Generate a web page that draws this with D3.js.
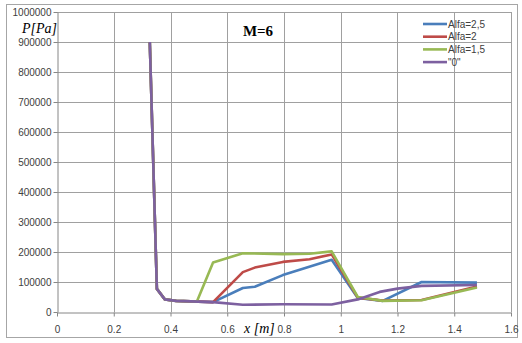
<!DOCTYPE html>
<html>
<head>
<meta charset="utf-8">
<script src="https://cdn.jsdelivr.net/npm/d3@7"></script>
<style>
  body { margin: 0; background: #fff; }
  svg { display: block; }
</style>
</head>
<body>
<svg id="chart" width="522" height="343"></svg>
<script>
// data
const xTicks = [0, 0.2, 0.4, 0.6, 0.8, 1, 1.2, 1.4, 1.6];
const yTicks = [0, 100000, 200000, 300000, 400000, 500000, 600000, 700000, 800000, 900000, 1000000];

const seriesNames = ["Alfa=2,5", "Alfa=2", "Alfa=1,5", "\"0\""];
const seriesColors = ["#4a7ebb", "#be4b48", "#98b954", "#7d60a0"];

const xAlfa25 = [0.327, 0.352, 0.38, 0.42, 0.55, 0.655, 0.697, 0.796, 0.968, 1.06, 1.148, 1.285, 1.48];
const pAlfa25 = [900000, 77000, 42000, 37000, 33000, 80000, 84000, 123000, 174000, 47000, 37000, 100000, 98000];

const xAlfa2 = [0.327, 0.352, 0.38, 0.42, 0.55, 0.655, 0.697, 0.796, 0.89, 0.968, 1.06, 1.148, 1.285, 1.48];
const pAlfa2 = [900000, 77000, 42000, 37000, 33000, 133000, 148000, 167000, 176000, 192000, 48000, 38000, 40000, 85000];

const xAlfa15 = [0.327, 0.352, 0.38, 0.42, 0.493, 0.55, 0.655, 0.796, 0.89, 0.968, 1.06, 1.148, 1.285, 1.48];
const pAlfa15 = [900000, 77000, 42000, 37000, 35000, 165000, 196000, 193000, 194000, 202000, 50000, 37000, 39000, 82000];

const xZero = [0.327, 0.352, 0.38, 0.42, 0.55, 0.655, 0.796, 0.968, 1.06, 1.137, 1.2, 1.285, 1.48];
const pZero = [900000, 77000, 42000, 37000, 33000, 24000, 26000, 25000, 42000, 67000, 78000, 87000, 90000];

const series = [
  { xs: xAlfa25, ps: pAlfa25 },
  { xs: xAlfa2, ps: pAlfa2 },
  { xs: xAlfa15, ps: pAlfa15 },
  { xs: xZero, ps: pZero }
];

const svg = d3.select("#chart");

const margin = { left: 57, right: 11, top: 12, bottom: 31 };
const width = 522, height = 343;

const x = d3.scaleLinear().domain([0, 1.6]).range([margin.left, width - margin.right]);
const y = d3.scaleLinear().domain([0, 1000000]).range([height - margin.bottom, margin.top]);

// outer frame
svg.append("rect")
  .attr("x", 6.5).attr("y", 4.5)
  .attr("width", 511).attr("height", 333)
  .attr("fill", "none")
  .attr("stroke", "#a6a6a6");

// grid
const grid = svg.append("g");
grid.selectAll("line.h")
  .data(yTicks.slice(1))
  .enter().append("line")
  .attr("x1", margin.left).attr("x2", x(1.6))
  .attr("y1", d => Math.round(y(d)) + 0.5).attr("y2", d => Math.round(y(d)) + 0.5)
  .attr("stroke", "#a0a0a0");
grid.selectAll("line.v")
  .data(xTicks.slice(1))
  .enter().append("line")
  .attr("x1", d => Math.round(x(d)) + 0.5).attr("x2", d => Math.round(x(d)) + 0.5)
  .attr("y1", y(0)).attr("y2", y(1000000))
  .attr("stroke", "#a0a0a0");

// axes
const xAxis = svg.append("g")
  .attr("transform", `translate(0,${Math.round(y(0)) + 0.5})`)
  .call(d3.axisBottom(x).tickValues(xTicks).tickSize(4).tickSizeOuter(0).tickFormat(d => d));
const yAxis = svg.append("g")
  .attr("transform", `translate(${margin.left + 0.5},0)`)
  .call(d3.axisLeft(y).tickValues(yTicks).tickSize(4).tickSizeOuter(0).tickFormat(d => d));

[xAxis, yAxis].forEach(a => {
  a.select(".domain").attr("stroke", "#868686");
  a.selectAll(".tick line").attr("stroke", "#868686");
  a.selectAll("text")
    .attr("font-family", "Liberation Sans, Arial, sans-serif")
    .attr("font-size", "10px")
    .attr("fill", "#404040");
});
xAxis.selectAll("text").attr("dy", "1.35em");
yAxis.selectAll("text").attr("x", -6);

// lines
const line = d3.line()
  .x(d => x(d[0]))
  .y(d => y(d[1]));

svg.append("g")
  .selectAll("path")
  .data(series)
  .enter().append("path")
  .attr("d", s => line(s.xs.map((v, i) => [v, s.ps[i]])))
  .attr("fill", "none")
  .attr("stroke", (s, i) => seriesColors[i])
  .attr("stroke-width", 2.6)
  .attr("stroke-linejoin", "round");

// title and axis labels
svg.append("text")
  .attr("x", 258).attr("y", 36)
  .attr("text-anchor", "middle")
  .attr("font-family", "Liberation Serif, Times New Roman, serif")
  .attr("font-weight", "bold")
  .attr("font-size", "15px")
  .text("M=6");

svg.append("text")
  .attr("x", 22).attr("y", 33)
  .attr("font-family", "Liberation Serif, Times New Roman, serif")
  .attr("font-style", "italic")
  .attr("font-size", "14px")
  .text("P[Pa]");

svg.append("text")
  .attr("x", 244).attr("y", 333)
  .attr("font-family", "Liberation Serif, Times New Roman, serif")
  .attr("font-style", "italic")
  .attr("font-size", "14px")
  .text("x [m]");

// legend
const legend = svg.append("g").attr("transform", "translate(423,24)");
const items = legend.selectAll("g")
  .data(seriesNames)
  .enter().append("g")
  .attr("transform", (d, i) => `translate(0,${i * 12.7})`);
items.append("line")
  .attr("x1", 0).attr("x2", 24)
  .attr("stroke", (d, i) => seriesColors[i])
  .attr("stroke-width", 2.6);
items.append("text")
  .attr("x", 25).attr("dy", "0.35em")
  .attr("font-family", "Liberation Sans, Arial, sans-serif")
  .attr("font-size", "10px")
  .attr("fill", "#404040")
  .text(d => d);
</script>
</body>
</html>
